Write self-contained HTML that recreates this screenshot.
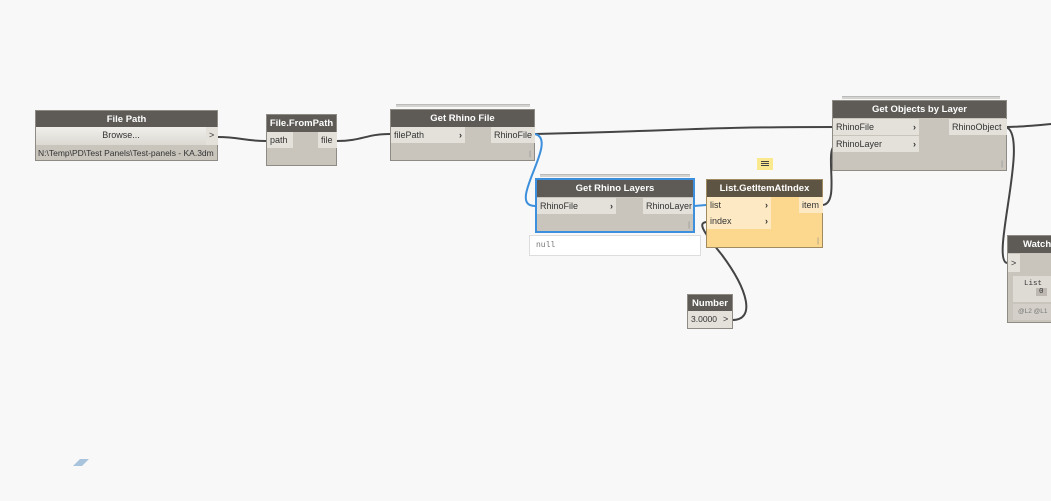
<!DOCTYPE html>
<html><head><meta charset="utf-8"><style>
body{margin:0;width:1051px;height:501px;background:#f8f8f8;position:relative;overflow:hidden;font-family:"Liberation Sans",sans-serif;font-size:9px;color:#333}
.n{position:absolute;background:#c9c5bd;border:1px solid #8e8a84;box-sizing:border-box}
.h{background:#5e5b57;color:#fff;font-weight:bold;text-align:center;height:17px;line-height:17px;font-size:9.5px}
.p{position:absolute;background:#e4e1da;height:16px;line-height:16px;padding:0 3px;box-sizing:border-box}
.sh{position:absolute;height:2px;background:#d5d3cf;border-top:1px solid #bbb}
.ic{position:absolute;font-size:7px;color:#888}
</style></head><body>
<svg width="1051" height="501" style="position:absolute;left:0;top:0">
<g fill="none" stroke="#444" stroke-width="2">
<path d="M218,137 C240,137 244,141 266,141"/>
<path d="M337,141 C362,141 366,134 390,134"/>
<path d="M535,134 C700,130 700,127 837,127"/>
<path d="M822,205 C842,205 822,145 837,145"/>
<path d="M732,320 C756,320 748,290 722,255 C700,228 698,222 708,222"/>
<path d="M1006,127 C1020,127 1051,124 1051,124"/>
<path d="M1006,127 C1030,135 990,260 1007,263"/>
</g>
<g fill="none" stroke="#3b8fdc" stroke-width="2">
<path d="M535,134 C560,140 505,206 535,206"/>
<path d="M694,206 L706,205"/>
</g>
<polygon points="73,466 80,459 89,459 82,466" fill="#a8c4dc"/>
</svg>

<div class="n" style="left:35px;top:110px;width:183px;height:51px">
<div class="h">File Path</div>
<div class="p" style="left:0;top:16px;width:170px;height:18px;text-align:center;background:linear-gradient(#f0efeb,#dcd9d2)">Browse...</div>
<div class="p" style="left:170px;top:16px;width:12px;height:18px">&gt;</div>
<div style="position:absolute;left:2px;top:37px;font-size:8.5px">N:\Temp\PD\Test Panels\Test-panels - KA.3dm</div>
</div>

<div class="n" style="left:266px;top:114px;width:71px;height:52px">
<div class="h">File.FromPath</div>
<div class="p" style="left:0;top:17px;width:26px">path</div>
<div class="p" style="left:51px;top:17px;width:19px">file</div>
</div>

<div class="sh" style="left:396px;top:104px;width:134px"></div>
<div class="n" style="left:390px;top:109px;width:145px;height:52px">
<div class="h">Get Rhino File</div>
<div class="p" style="left:0;top:17px;width:74px">filePath <b style="float:right">›</b></div>
<div class="p" style="left:100px;top:17px;width:44px">RhinoFile</div>
<div class="ic" style="right:3px;bottom:2px">|</div>
</div>

<div class="sh" style="left:540px;top:174px;width:150px"></div>
<div class="n" style="left:535px;top:178px;width:160px;height:55px;border:2px solid #3b8fdc">
<div class="h">Get Rhino Layers</div>
<div class="p" style="left:0;top:18px;width:79px">RhinoFile <b style="float:right">›</b></div>
<div class="p" style="left:106px;top:18px;width:50px">RhinoLayer</div>
<div class="ic" style="right:3px;bottom:2px">|</div>
</div>
<div style="position:absolute;left:529px;top:235px;width:172px;height:21px;background:#fff;border:1px solid #ddd;box-sizing:border-box;font-family:'Liberation Mono',monospace;font-size:8px;color:#777;line-height:19px;padding-left:6px">null</div>

<div style="position:absolute;left:757px;top:158px;width:16px;height:12px;background:#fbe98f"></div>
<div style="position:absolute;left:761px;top:161px;width:8px;height:1px;background:#444;box-shadow:0 2px 0 #444,0 4px 0 #444"></div>
<div class="n" style="left:706px;top:179px;width:117px;height:69px;background:#fcd88e;border-color:#a08a60">
<div class="h" style="background:#5e5443">List.GetItemAtIndex</div>
<div class="p" style="left:0;top:17px;width:64px;background:#fdeac4">list <b style="float:right">›</b></div>
<div class="p" style="left:0;top:33px;width:64px;background:#fdeac4">index <b style="float:right">›</b></div>
<div class="p" style="left:92px;top:17px;width:24px;background:#fdeac4">item</div>
<div class="ic" style="right:3px;bottom:2px">|</div>
</div>

<div class="sh" style="left:842px;top:96px;width:158px"></div>
<div class="n" style="left:832px;top:100px;width:175px;height:71px">
<div class="h">Get Objects by Layer</div>
<div class="p" style="left:0;top:18px;width:86px">RhinoFile <b style="float:right">›</b></div>
<div class="p" style="left:0;top:35px;width:86px">RhinoLayer <b style="float:right">›</b></div>
<div class="p" style="left:116px;top:18px;width:58px">RhinoObject</div>
<div class="ic" style="right:3px;bottom:2px">|</div>
</div>

<div class="n" style="left:687px;top:294px;width:46px;height:35px">
<div class="h">Number</div>
<div class="p" style="left:0;top:16px;width:32px;height:17px;font-size:8.5px">3.0000</div>
<div class="p" style="left:32px;top:16px;width:12px;height:17px">&gt;</div>
</div>

<div class="n" style="left:1007px;top:235px;width:60px;height:88px">
<div class="h" style="text-align:left;padding-left:15px">Watch</div>
<div class="p" style="left:0;top:18px;width:12px;height:18px;line-height:18px">&gt;</div>
<div style="position:absolute;left:5px;top:40px;width:60px;height:26px;background:#dedbd4;font-family:'Liberation Mono',monospace;font-size:7.5px;padding:4px 0 0 11px;box-sizing:border-box">List<br><span style="background:#bdb9b2;padding:0 3px;margin-left:12px">0</span></div>
<div style="position:absolute;left:5px;top:68px;width:60px;height:16px;background:#d4d0c9;font-size:6.5px;color:#777;line-height:16px;padding-left:5px">@L2 @L1</div>
</div>
</body></html>
